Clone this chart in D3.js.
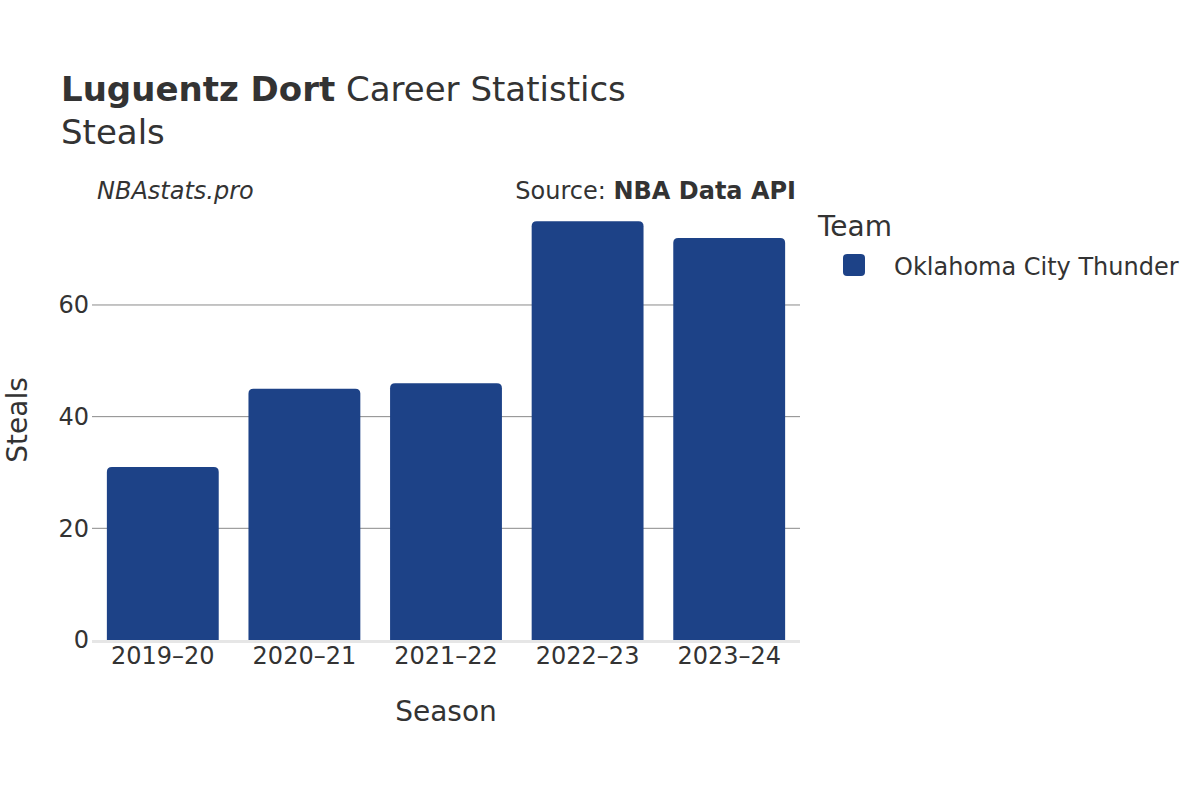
<!DOCTYPE html>
<html><head><meta charset="utf-8">
<script src="https://cdn.jsdelivr.net/npm/d3@7"></script>
<style>body{margin:0;background:#fff}svg{font-family:"DejaVu Sans",sans-serif}</style>
</head><body><svg id="c" width="1200" height="800"></svg>
<script>
const seasons = ["2019–20","2020–21","2021–22","2022–23","2023–24"];
const steals = [31,45,46,75,72];
const yTicks = [0,20,40,60];
const team = "Oklahoma City Thunder";
const barColor = "#1d4287";
const textColor = "#333333";

const svg = d3.select("#c");
const m = {left:92, right:800, top:200, bottom:640};
const x = d3.scaleBand().domain(seasons).range([m.left, m.right]).paddingInner(0.21).paddingOuter(0.105);
const y = d3.scaleLinear().domain([0,78.8]).range([m.bottom, m.top]);

// gridlines
svg.append("g").selectAll("line").data(yTicks.filter(d=>d>0)).join("line")
  .attr("x1",m.left).attr("x2",m.right).attr("y1",d=>y(d)).attr("y2",d=>y(d))
  .attr("stroke","#8a8a8a").attr("stroke-width",1);
// baseline
svg.append("line").attr("x1",m.left).attr("x2",m.right).attr("y1",y(0)+1.5).attr("y2",y(0)+1.5)
  .attr("stroke","#e6e6e6").attr("stroke-width",3);

// bars with rounded top
const r = 5;
svg.append("g").selectAll("path").data(seasons.map((s,i)=>({s,v:steals[i]}))).join("path")
  .attr("fill",barColor)
  .attr("d",d=>{
    const x0=x(d.s), w=x.bandwidth(), y0=y(d.v), y1=y(0);
    return `M${x0},${y1}V${y0+r}Q${x0},${y0} ${x0+r},${y0}H${x0+w-r}Q${x0+w},${y0} ${x0+w},${y0+r}V${y1}Z`;
  });

// y axis
const ya = svg.append("g").attr("transform",`translate(${m.left},0)`)
  .call(d3.axisLeft(y).tickValues(yTicks).tickSize(0).tickPadding(3));
ya.select(".domain").remove();
ya.selectAll("text").attr("font-size",24).attr("fill",textColor).attr("font-family","DejaVu Sans");

// x axis
const xa = svg.append("g").attr("transform",`translate(0,${m.bottom})`)
  .call(d3.axisBottom(x).tickSize(0).tickPadding(7));
xa.select(".domain").remove();
xa.selectAll("text").attr("font-size",24).attr("fill",textColor).attr("font-family","DejaVu Sans");

// titles
const t = svg.append("text").attr("x",61).attr("y",101).attr("font-size",34).attr("fill",textColor);
t.append("tspan").attr("font-weight","bold").text("Luguentz Dort");
t.append("tspan").text(" Career Statistics");
svg.append("text").attr("x",61).attr("y",144).attr("font-size",34).attr("fill",textColor).text("Steals");

svg.append("text").attr("x",97).attr("y",199).attr("font-size",24).attr("font-style","italic").attr("fill",textColor).text("NBAstats.pro");
const src = svg.append("text").attr("x",796).attr("y",199).attr("font-size",24).attr("text-anchor","end").attr("fill",textColor);
src.append("tspan").text("Source: ");
src.append("tspan").attr("font-weight","bold").text("NBA Data API");

svg.append("text").attr("x",446).attr("y",721).attr("font-size",28).attr("text-anchor","middle").attr("fill",textColor).text("Season");
svg.append("text").attr("transform","translate(27,420) rotate(-90)").attr("font-size",28).attr("text-anchor","middle").attr("fill",textColor).text("Steals");

// legend
svg.append("text").attr("x",818).attr("y",236).attr("font-size",28).attr("fill",textColor).text("Team");
svg.append("rect").attr("x",843).attr("y",254).attr("width",22).attr("height",22).attr("rx",4).attr("fill",barColor);
svg.append("text").attr("x",894).attr("y",275).attr("font-size",24).attr("fill",textColor).text(team);
</script></body></html>
